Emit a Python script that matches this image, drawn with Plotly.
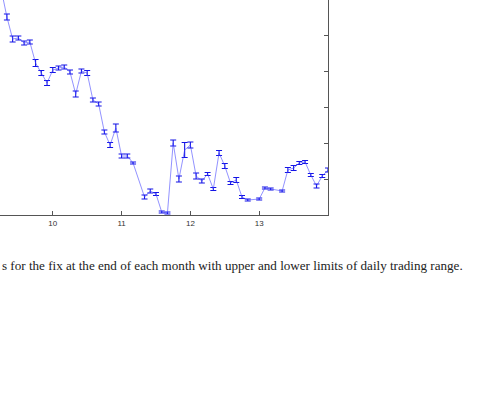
import plotly.graph_objects as go

# Month offsets relative to start of year "10" (x = 10 + month/12)
base_year = 10
month_index = [-9, -8, -7, -6, -5, -4, -3, -2, -1, 0, 1, 2, 3, 4, 5, 6, 7, 8, 9, 10,
               11, 12, 13, 14, 16, 17, 18, 19, 20, 21, 22, 23, 24, 25, 26, 27, 28, 29,
               30, 31, 32, 33, 34, 36, 37, 38, 40, 41, 42, 43, 44, 45, 46, 47, 48]

fix_value = [1.4153, 1.3763, 1.3456, 1.3470, 1.3400, 1.3414, 1.3121, 1.2981, 1.2842, 1.3023,
             1.3051, 1.3065, 1.2995, 1.2688, 1.3009, 1.2981, 1.2605, 1.2549, 1.2158, 1.1977,
             1.2214, 1.1823, 1.1823, 1.1726, 1.1251, 1.1335, 1.1293, 1.1042, 1.1028, 1.2005,
             1.1502, 1.1907, 1.1977, 1.1544, 1.1474, 1.1572, 1.1363, 1.1865, 1.1684, 1.1447,
             1.1488, 1.1251, 1.1209, 1.1223, 1.1377, 1.1363, 1.1335, 1.1628, 1.1656, 1.1726,
             1.1740, 1.1558, 1.1405, 1.1544, 1.1628]

upper_limit = [1.4195, 1.3805, 1.3498, 1.3498, 1.3428, 1.3442, 1.3170, 1.3016, 1.2877, 1.3058,
               1.3079, 1.3093, 1.3023, 1.2730, 1.3037, 1.3016, 1.2633, 1.2577, 1.2186, 1.2012,
               1.2270, 1.1851, 1.1851, 1.1740, 1.1279, 1.1363, 1.1314, 1.1056, 1.1042, 1.2047,
               1.1544, 1.2012, 1.2019, 1.1586, 1.1502, 1.1593, 1.1384, 1.1900, 1.1719, 1.1468,
               1.1523, 1.1272, 1.1223, 1.1237, 1.1391, 1.1377, 1.1349, 1.1663, 1.1691, 1.1747,
               1.1761, 1.1579, 1.1433, 1.1565, 1.1656]

lower_limit = [1.4111, 1.3721, 1.3414, 1.3442, 1.3372, 1.3386, 1.3072, 1.2946, 1.2807, 1.2988,
               1.3023, 1.3037, 1.2967, 1.2646, 1.2981, 1.2946, 1.2577, 1.2521, 1.2130, 1.1942,
               1.2158, 1.1795, 1.1795, 1.1712, 1.1223, 1.1307, 1.1272, 1.1028, 1.1014, 1.1963,
               1.1460, 1.1802, 1.1935, 1.1502, 1.1446, 1.1551, 1.1342, 1.1830, 1.1649, 1.1426,
               1.1453, 1.1230, 1.1195, 1.1209, 1.1363, 1.1349, 1.1321, 1.1593, 1.1621, 1.1705,
               1.1719, 1.1537, 1.1377, 1.1523, 1.1600]

x_ticks = [10, 11, 12, 13]
y_ticks = [1.10, 1.15, 1.20, 1.25, 1.30, 1.35, 1.40]
caption = ("s for the fix at the end of each month with upper and lower limits "
           "of daily trading range.")

x_vals = [base_year + m / 12 for m in month_index]
err_plus = [u - v for u, v in zip(upper_limit, fix_value)]
err_minus = [v - l for v, l in zip(fix_value, lower_limit)]

fig = go.Figure()
fig.add_trace(go.Scatter(
    x=x_vals, y=fix_value, mode="lines",
    line=dict(color="rgba(60,60,255,0.7)", width=0.8),
    error_y=dict(type="data", symmetric=False, array=err_plus, arrayminus=err_minus,
                 color="rgb(20,20,230)", thickness=1.1, width=3),
    showlegend=False,
))

axis_col = "#555555"
fig.update_layout(
    width=501, height=420,
    margin=dict(l=0, r=173, t=0, b=205, autoexpand=False),
    paper_bgcolor="white", plot_bgcolor="white",
    xaxis=dict(range=[9.233, 14.0], tickvals=x_ticks, ticktext=[str(t) for t in x_ticks],
               showgrid=False, zeroline=False, showline=True, linecolor=axis_col,
               linewidth=1, ticks="inside", ticklen=4, tickcolor=axis_col,
               tickfont=dict(family="Liberation Sans, Arial", size=8, color="#333333")),
    yaxis=dict(range=[1.10, 1.40], tickvals=y_ticks, side="right",
               showgrid=False, zeroline=False, showline=True, linecolor=axis_col,
               linewidth=1, ticks="inside", ticklen=4, tickcolor=axis_col,
               showticklabels=False),
    annotations=[dict(text=caption, xref="paper", yref="paper", x=0.0, y=-0.2326,
                      xanchor="left", yanchor="middle", showarrow=False,
                      font=dict(family="Liberation Serif, Times New Roman, serif",
                                size=13.1, color="#222222"))],
)

fig.write_html("out.html")
